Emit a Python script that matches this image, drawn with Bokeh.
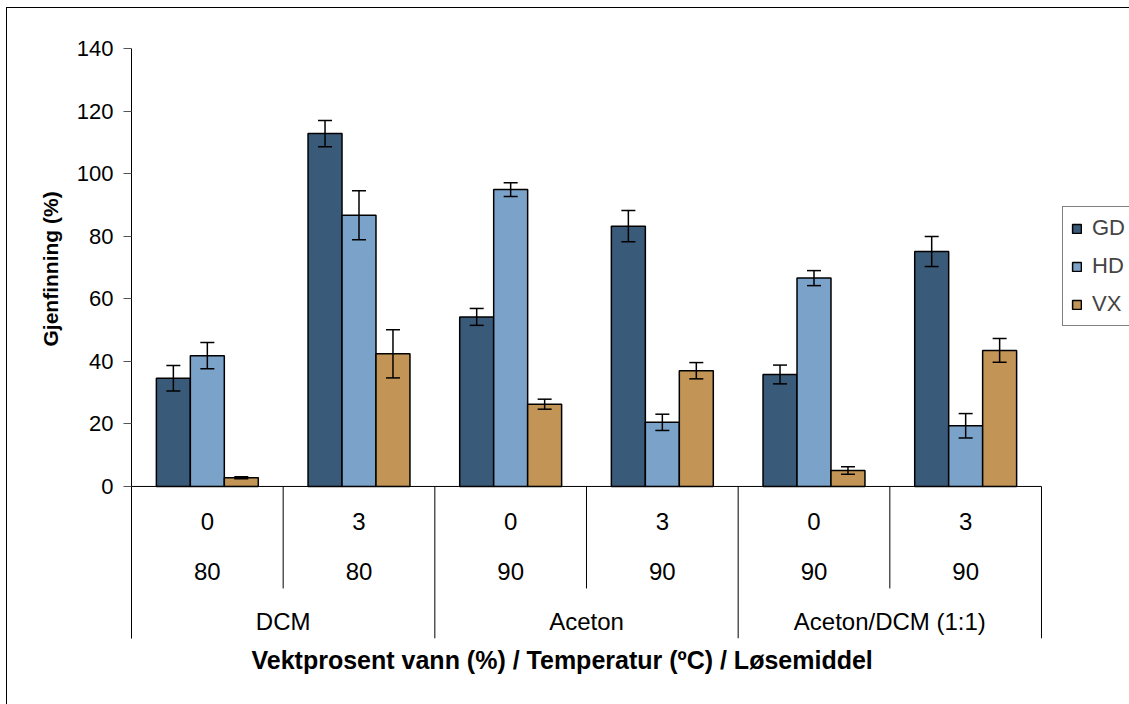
import math
from bokeh.plotting import figure
from bokeh.models import (ColumnDataSource, Range1d, FixedTicker, Whisker, TeeHead,
                          Legend, LegendItem, Title)
from bokeh.core.properties import value
from bokeh.embed import file_html
from bokeh.resources import INLINE

# ---- data ----
water = ["0", "3", "0", "3", "0", "3"]
temperature = ["80", "80", "90", "90", "90", "90"]
solvents = ["DCM", "Aceton", "Aceton/DCM (1:1)"]
series = ["GD", "HD", "VX"]
gd = [34.6, 112.8, 54.2, 83.2, 35.8, 75.1]
gd_err = [4.1, 4.2, 2.7, 5.0, 3.0, 4.8]
hd = [41.8, 86.7, 94.9, 20.5, 66.6, 19.4]
hd_err = [4.2, 7.8, 2.2, 2.6, 2.4, 3.9]
vx = [2.8, 42.4, 26.3, 37.0, 5.1, 43.5]
vx_err = [0.3, 7.7, 1.6, 2.6, 1.2, 3.8]
y_ticks = [0, 20, 40, 60, 80, 100, 120, 140]
x_title = "Vektprosent vann (%) / Temperatur (ºC) / Løsemiddel"
y_title = "Gjenfinning (%)"

colors = ["#3A5A7A", "#7BA3C9", "#C29455"]
FONT = "Liberation Sans"

n = len(water)
bar_w = 0.224
offsets = [-bar_w, 0.0, bar_w]

p = figure(frame_width=911, frame_height=590,
           x_range=Range1d(0, 6.0066), y_range=Range1d(-48.6, 140),
           output_backend="svg", toolbar_location=None, title=None,
           min_border_left=124, min_border_right=88,
           min_border_top=40, min_border_bottom=67)
p.styles = {"border-left": "1px solid #000", "border-top": "1px solid #000",
            "margin-left": "6px", "margin-top": "7px"}
p.outline_line_color = None
p.xgrid.visible = False
p.ygrid.visible = False
p.xaxis.visible = False
p.background_fill_color = "white"
p.border_fill_color = "white"

yax = p.yaxis[0]
yax.ticker = FixedTicker(ticks=y_ticks)
yax.axis_line_color = "black"
yax.axis_line_width = 1
yax.major_tick_line_color = "#555555"
yax.major_tick_in = 0
yax.major_tick_out = 8
yax.minor_tick_line_color = None
yax.major_label_text_font = FONT
yax.major_label_text_font_size = "22px"
yax.major_label_text_color = "black"
yax.major_label_standoff = 10

items = []
for vals, errs, off, col, name in zip([gd, hd, vx], [gd_err, hd_err, vx_err],
                                      offsets, colors, series):
    xs = [i + 0.5 + off for i in range(n)]
    src = ColumnDataSource(dict(x=xs, top=vals,
                                upper=[v + e for v, e in zip(vals, errs)],
                                lower=[v - e for v, e in zip(vals, errs)]))
    r = p.vbar(x="x", top="top", bottom=0, width=bar_w, source=src,
               fill_color=col, line_color="black", line_width=1.5)
    w = Whisker(base="x", upper="upper", lower="lower", source=src,
                line_color="black", line_width=1.5, level="overlay",
                upper_head=TeeHead(size=14, line_color="black", line_width=1.5),
                lower_head=TeeHead(size=14, line_color="black", line_width=1.5))
    p.add_layout(w)
    items.append(LegendItem(label=name, renderers=[r]))

# category axis lines
p.segment(x0=[0], y0=[0], x1=[n], y1=[0], line_color="black", line_width=1)
sep_x = list(range(n + 1))
sep_y1 = [-48.6 if i % 2 == 0 else -32.6 for i in sep_x]
p.segment(x0=sep_x, y0=[0] * len(sep_x), x1=sep_x, y1=sep_y1,
          line_color="black", line_width=1)

# category labels
centers = [i + 0.5 for i in range(n)]
cat_size = "24px"
p.text(x=centers, y=[-11.2] * n, text=water, text_font=value(FONT),
       text_font_size=cat_size, text_align="center", text_baseline="middle",
       text_color="black")
p.text(x=centers, y=[-27.2] * n, text=temperature, text_font=value(FONT),
       text_font_size=cat_size, text_align="center", text_baseline="middle",
       text_color="black")
p.text(x=[1, 3, 5], y=[-43.1] * 3, text=solvents, text_font=value(FONT),
       text_font_size=cat_size, text_align="center", text_baseline="middle",
       text_color="black")

# axis titles
yt = Title(text=y_title, align="left", offset=292,
           text_font=FONT, text_font_size="21px", text_font_style="bold",
           text_color="black")
xt = Title(text=x_title, align="left", offset=120,
           text_font=FONT, text_font_size="25px", text_font_style="bold",
           text_color="black")
if "standoff" in Title.properties():
    yt.standoff = 24
    xt.standoff = 11
p.add_layout(yt, "left")
p.add_layout(xt, "below")

legend = Legend(items=items, location=(20, 312),
                label_text_font=FONT, label_text_font_size="22px",
                glyph_width=11, glyph_height=11, label_height=22,
                spacing=12, padding=8, margin=0, label_standoff=10,
                border_line_color="black", border_line_width=1,
                background_fill_color="white", background_fill_alpha=1)
p.add_layout(legend, "right")

open("out.html", "w").write(file_html(p, INLINE))
